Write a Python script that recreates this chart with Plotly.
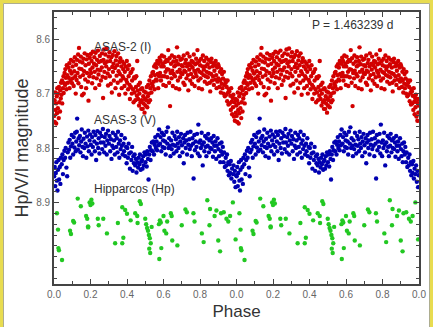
import plotly.graph_objects as go

# ---------------- data (one cycle, phase 0..1; plotted twice) ----------------
asas2_points = [
    (0.001,8.741),(0.003,8.712),(0.004,8.752),(0.007,8.698),(0.009,8.730),(0.011,8.718),(0.012,8.755),(0.015,8.705),(0.016,8.736),(0.018,8.690),
    (0.021,8.727),(0.022,8.700),(0.026,8.745),(0.027,8.688),(0.029,8.716),(0.033,8.733),(0.034,8.694),(0.037,8.709),(0.039,8.680),
    (0.041,8.702),(0.044,8.676),(0.045,8.718),(0.049,8.690),(0.052,8.668),(0.053,8.699),(0.056,8.681),(0.058,8.662),
    (0.061,8.684),(0.062,8.655),(0.065,8.671),(0.068,8.692),(0.070,8.648),(0.073,8.666),(0.076,8.680),(0.079,8.652),
    (0.081,8.671),(0.084,8.644),(0.085,8.690),(0.088,8.658),(0.091,8.676),(0.093,8.638),(0.096,8.663),(0.099,8.681),
    (0.102,8.650),(0.103,8.672),(0.106,8.641),(0.108,8.686),(0.111,8.659),(0.114,8.633),(0.117,8.668),(0.119,8.700),
    (0.121,8.647),(0.124,8.675),(0.126,8.638),(0.129,8.662),(0.132,8.628),(0.134,8.681),(0.137,8.616),(0.139,8.654),
    (0.142,8.641),(0.143,8.669),(0.147,8.632),(0.149,8.688),(0.151,8.655),(0.154,8.703),(0.156,8.643),(0.159,8.666),
    (0.161,8.636),(0.163,8.700),(0.165,8.659),(0.168,8.626),(0.171,8.674),(0.173,8.648),(0.176,8.690),(0.179,8.637),
    (0.181,8.662),(0.183,8.629),(0.186,8.678),(0.189,8.713),(0.191,8.645),(0.194,8.668),(0.196,8.634),(0.199,8.656),
    (0.202,8.627),(0.203,8.662),(0.206,8.640),(0.209,8.681),(0.211,8.652),(0.213,8.623),(0.216,8.670),(0.219,8.645),
    (0.221,8.633),(0.223,8.660),(0.226,8.690),(0.228,8.625),(0.231,8.648),(0.234,8.672),(0.236,8.638),(0.239,8.656),
    (0.241,8.621),(0.244,8.665),(0.246,8.642),(0.248,8.684),(0.251,8.631),(0.253,8.657),(0.257,8.676),(0.259,8.640),
    (0.262,8.652),(0.263,8.626),(0.266,8.669),(0.269,8.708),(0.271,8.638),(0.274,8.619),(0.276,8.660),(0.279,8.644),
    (0.281,8.628),(0.283,8.671),(0.286,8.650),(0.288,8.617),(0.291,8.641),(0.294,8.663),(0.296,8.685),(0.299,8.632),
    (0.301,8.655),(0.304,8.624),(0.306,8.668),(0.308,8.640),(0.311,8.682),(0.314,8.633),(0.317,8.698),(0.319,8.651),
    (0.322,8.629),(0.323,8.660),(0.326,8.645),(0.328,8.676),(0.331,8.622),(0.334,8.653),(0.337,8.690),(0.339,8.639),
    (0.342,8.631),(0.343,8.667),(0.346,8.648),(0.349,8.680),(0.351,8.626),(0.354,8.659),(0.357,8.702),(0.359,8.642),
    (0.361,8.664),(0.363,8.635),(0.366,8.676),(0.369,8.650),(0.371,8.690),(0.374,8.641),(0.376,8.668),(0.379,8.655),
    (0.381,8.672),(0.384,8.645),(0.386,8.686),(0.388,8.660),(0.391,8.700),(0.393,8.650),(0.396,8.675),(0.399,8.640),
    (0.401,8.680),(0.404,8.655),(0.406,8.692),(0.409,8.668),(0.411,8.648),(0.414,8.684),(0.416,8.710),(0.419,8.662),
    (0.421,8.688),(0.424,8.660),(0.426,8.700),(0.428,8.676),(0.431,8.655),(0.433,8.692),(0.436,8.716),(0.439,8.670),
    (0.441,8.698),(0.443,8.672),(0.446,8.712),(0.449,8.688),(0.451,8.668),(0.454,8.704),(0.456,8.640),(0.459,8.694),
    (0.461,8.710),(0.463,8.684),(0.466,8.722),(0.468,8.700),(0.471,8.680),(0.474,8.716),(0.476,8.692),(0.479,8.728),
    (0.481,8.712),(0.483,8.690),(0.486,8.728),(0.489,8.705),(0.491,8.718),(0.494,8.696),(0.496,8.735),(0.499,8.710),
    (0.501,8.722),(0.503,8.698),(0.506,8.712),(0.508,8.688),(0.511,8.725),(0.514,8.705),(0.516,8.684),(0.519,8.716),
    (0.521,8.700),(0.523,8.676),(0.526,8.712),(0.528,8.690),(0.531,8.668),(0.534,8.698),(0.536,8.682),(0.539,8.662),
    (0.541,8.686),(0.543,8.660),(0.546,8.678),(0.549,8.650),(0.551,8.692),(0.553,8.666),(0.556,8.646),(0.559,8.674),
    (0.561,8.652),(0.563,8.676),(0.566,8.640),(0.568,8.664),(0.571,8.690),(0.574,8.645),(0.576,8.668),(0.579,8.634),
    (0.581,8.662),(0.584,8.640),(0.586,8.676),(0.588,8.650),(0.591,8.630),(0.593,8.668),(0.596,8.645),(0.599,8.684),
    (0.601,8.650),(0.603,8.632),(0.606,8.668),(0.609,8.642),(0.611,8.660),(0.613,8.686),(0.616,8.638),(0.619,8.655),
    (0.621,8.670),(0.623,8.640),(0.626,8.620),(0.628,8.656),(0.631,8.680),(0.633,8.635),(0.636,8.723),(0.639,8.662),
    (0.641,8.645),(0.644,8.672),(0.646,8.630),(0.648,8.658),(0.651,8.686),(0.654,8.641),(0.656,8.664),(0.659,8.650),
    (0.661,8.633),(0.663,8.668),(0.666,8.648),(0.669,8.690),(0.671,8.640),(0.674,8.615),(0.676,8.660),(0.679,8.676),
    (0.681,8.646),(0.683,8.632),(0.686,8.692),(0.689,8.656),(0.691,8.670),(0.693,8.638),(0.696,8.662),(0.699,8.648),
    (0.701,8.636),(0.704,8.664),(0.706,8.650),(0.709,8.680),(0.711,8.630),(0.714,8.658),(0.716,8.684),(0.719,8.644),
    (0.721,8.660),(0.723,8.638),(0.726,8.672),(0.729,8.650),(0.731,8.626),(0.734,8.666),(0.736,8.694),(0.739,8.645),
    (0.741,8.656),(0.743,8.632),(0.746,8.676),(0.749,8.648),(0.751,8.664),(0.754,8.640),(0.756,8.682),(0.759,8.652),
    (0.761,8.642),(0.763,8.670),(0.766,8.628),(0.769,8.658),(0.771,8.686),(0.774,8.646),(0.776,8.662),(0.779,8.636),
    (0.781,8.668),(0.783,8.644),(0.786,8.620),(0.789,8.656),(0.791,8.676),(0.794,8.690),(0.796,8.640),(0.799,8.660),
    (0.801,8.648),(0.803,8.672),(0.806,8.636),(0.809,8.662),(0.811,8.692),(0.814,8.650),(0.816,8.630),(0.819,8.666),
    (0.821,8.656),(0.823,8.640),(0.826,8.678),(0.829,8.650),(0.831,8.668),(0.834,8.634),(0.836,8.660),(0.839,8.682),
    (0.841,8.646),(0.843,8.670),(0.846,8.638),(0.849,8.662),(0.851,8.652),(0.854,8.680),(0.856,8.696),(0.859,8.642),
    (0.861,8.664),(0.863,8.636),(0.866,8.676),(0.869,8.650),(0.871,8.668),(0.874,8.644),(0.876,8.684),(0.879,8.658),
    (0.881,8.648),(0.883,8.674),(0.886,8.640),(0.889,8.666),(0.891,8.690),(0.894,8.652),(0.896,8.678),(0.899,8.646),
    (0.901,8.672),(0.903,8.650),(0.906,8.688),(0.909,8.660),(0.911,8.676),(0.914,8.698),(0.916,8.655),(0.919,8.682),
    (0.921,8.664),(0.923,8.690),(0.926,8.672),(0.929,8.700),(0.931,8.660),(0.934,8.684),(0.936,8.705),(0.939,8.676),
    (0.941,8.680),(0.943,8.702),(0.946,8.688),(0.949,8.714),(0.951,8.676),(0.954,8.698),(0.956,8.720),(0.959,8.692),
    (0.961,8.696),(0.963,8.718),(0.966,8.704),(0.969,8.730),(0.971,8.690),(0.974,8.715),(0.976,8.738),(0.979,8.708),
    (0.981,8.725),(0.983,8.702),(0.986,8.742),(0.989,8.716),(0.991,8.750),(0.994,8.710),(0.996,8.735),(0.999,8.722),
]

asas3_points = [
    (0.001,8.852),(0.004,8.835),(0.007,8.870),(0.010,8.846),(0.013,8.826),(0.016,8.860),(0.019,8.878),
    (0.022,8.840),(0.025,8.822),(0.028,8.858),(0.032,8.835),(0.035,8.866),(0.038,8.818),
    (0.042,8.830),(0.046,8.812),(0.049,8.848),(0.053,8.822),(0.057,8.805),
    (0.061,8.818),(0.064,8.800),(0.068,8.836),(0.072,8.852),(0.075,8.808),(0.079,8.790),
    (0.082,8.803),(0.086,8.785),(0.089,8.818),(0.093,8.797),(0.097,8.776),
    (0.101,8.792),(0.105,8.812),(0.108,8.780),(0.112,8.799),(0.116,8.772),(0.119,8.806),
    (0.122,8.788),(0.125,8.770),(0.127,8.746),(0.131,8.803),(0.135,8.782),(0.138,8.795),
    (0.142,8.778),(0.145,8.808),(0.149,8.788),(0.152,8.766),(0.156,8.798),(0.159,8.815),
    (0.162,8.783),(0.166,8.800),(0.169,8.772),(0.173,8.792),(0.177,8.818),
    (0.181,8.779),(0.184,8.797),(0.188,8.768),(0.191,8.806),(0.195,8.786),(0.198,8.775),
    (0.202,8.794),(0.206,8.812),(0.209,8.780),(0.213,8.798),(0.217,8.770),
    (0.221,8.788),(0.224,8.806),(0.227,8.776),(0.231,8.822),(0.235,8.792),(0.238,8.769),
    (0.242,8.800),(0.245,8.782),(0.249,8.810),(0.252,8.772),(0.256,8.790),
    (0.261,8.778),(0.264,8.802),(0.268,8.765),(0.271,8.790),(0.275,8.808),(0.278,8.780),
    (0.282,8.796),(0.285,8.774),(0.289,8.812),(0.292,8.786),(0.296,8.768),
    (0.301,8.792),(0.304,8.778),(0.308,8.806),(0.312,8.784),(0.315,8.820),(0.319,8.796),
    (0.322,8.772),(0.326,8.800),(0.329,8.786),(0.333,8.812),(0.337,8.776),
    (0.341,8.798),(0.344,8.782),(0.348,8.808),(0.351,8.770),(0.355,8.792),(0.358,8.818),
    (0.362,8.786),(0.365,8.802),(0.369,8.776),(0.372,8.796),(0.376,8.812),
    (0.381,8.792),(0.384,8.806),(0.388,8.782),(0.391,8.815),(0.395,8.798),(0.398,8.828),
    (0.402,8.800),(0.405,8.818),(0.409,8.792),(0.412,8.810),(0.416,8.838),
    (0.421,8.808),(0.424,8.822),(0.428,8.798),(0.431,8.842),(0.435,8.815),(0.438,8.828),
    (0.442,8.812),(0.445,8.832),(0.449,8.820),(0.452,8.845),(0.456,8.826),
    (0.461,8.836),(0.464,8.818),(0.468,8.830),(0.471,8.812),(0.475,8.840),(0.478,8.825),
    (0.482,8.822),(0.485,8.838),(0.489,8.815),(0.492,8.832),(0.496,8.808),
    (0.501,8.826),(0.504,8.812),(0.508,8.834),(0.511,8.806),(0.515,8.820),(0.518,8.858),
    (0.522,8.812),(0.525,8.798),(0.529,8.822),(0.532,8.804),(0.536,8.790),
    (0.541,8.806),(0.544,8.788),(0.548,8.812),(0.551,8.794),(0.555,8.780),(0.558,8.800),
    (0.562,8.788),(0.565,8.804),(0.569,8.776),(0.572,8.795),(0.576,8.766),
    (0.581,8.792),(0.584,8.780),(0.588,8.806),(0.591,8.772),(0.595,8.798),(0.598,8.786),
    (0.602,8.776),(0.605,8.800),(0.609,8.788),(0.612,8.812),(0.616,8.770),
    (0.621,8.792),(0.624,8.762),(0.628,8.800),(0.631,8.782),(0.635,8.796),(0.638,8.815),
    (0.642,8.786),(0.645,8.802),(0.649,8.772),(0.652,8.794),(0.656,8.810),
    (0.661,8.778),(0.664,8.796),(0.668,8.784),(0.671,8.806),(0.675,8.770),(0.678,8.792),
    (0.682,8.800),(0.685,8.780),(0.689,8.815),(0.692,8.788),(0.696,8.774),
    (0.701,8.795),(0.704,8.808),(0.708,8.782),(0.711,8.828),(0.715,8.790),(0.718,8.776),
    (0.722,8.800),(0.725,8.786),(0.729,8.812),(0.732,8.772),(0.736,8.794),
    (0.741,8.784),(0.744,8.802),(0.748,8.770),(0.751,8.796),(0.755,8.815),(0.758,8.782),
    (0.762,8.792),(0.765,8.856),(0.769,8.776),(0.772,8.804),(0.776,8.788),
    (0.781,8.798),(0.784,8.774),(0.788,8.810),(0.791,8.757),(0.795,8.790),(0.798,8.815),
    (0.802,8.786),(0.805,8.800),(0.809,8.772),(0.812,8.794),(0.815,8.832),
    (0.821,8.790),(0.824,8.806),(0.828,8.778),(0.831,8.798),(0.835,8.815),(0.838,8.782),
    (0.842,8.796),(0.845,8.774),(0.849,8.808),(0.852,8.786),(0.856,8.800),
    (0.861,8.782),(0.864,8.802),(0.868,8.790),(0.871,8.816),(0.875,8.778),(0.878,8.796),
    (0.882,8.806),(0.885,8.788),(0.889,8.820),(0.892,8.796),(0.896,8.782),
    (0.901,8.802),(0.904,8.815),(0.908,8.792),(0.911,8.826),(0.915,8.806),(0.918,8.790),
    (0.922,8.812),(0.925,8.798),(0.929,8.826),(0.932,8.808),(0.936,8.835),
    (0.941,8.818),(0.944,8.832),(0.948,8.812),(0.951,8.842),(0.955,8.826),(0.958,8.850),
    (0.962,8.830),(0.965,8.846),(0.969,8.824),(0.972,8.856),(0.976,8.838),
    (0.981,8.848),(0.984,8.832),(0.988,8.862),(0.991,8.842),(0.995,8.872),(0.998,8.850),
]

hipparcos_points = [
    (0.016,8.920),(0.022,8.950),(0.027,8.988),(0.024,8.984),(0.044,9.006),(0.093,8.958),(0.088,8.952),
    (0.110,8.937),(0.105,8.934),(0.130,8.893),(0.147,8.907),(0.176,8.925),(0.182,8.930),(0.187,8.944),
    (0.195,8.900),(0.205,8.895),(0.200,8.905),(0.210,8.902),(0.240,8.930),(0.270,8.930),(0.245,8.942),
    (0.290,8.957),(0.350,8.938),(0.335,8.975),(0.374,8.975),(0.380,8.965),(0.374,8.909),(0.390,8.914),
    (0.400,8.921),(0.420,8.933),(0.445,8.920),(0.456,8.925),(0.458,8.938),(0.470,8.898),(0.476,8.903),
    (0.505,8.940),(0.510,8.947),(0.515,8.952),(0.520,8.960),(0.525,8.966),(0.530,8.975),(0.522,8.985),
    (0.527,8.993),(0.500,8.930),(0.535,8.945),(0.577,9.004),(0.588,8.984),(0.580,8.933),(0.585,8.937),
    (0.575,8.940),(0.600,8.925),(0.615,8.957),(0.640,8.920),(0.645,8.925),(0.648,8.970),(0.676,8.979),
    (0.700,8.942),(0.720,8.913),(0.728,8.918),(0.764,8.920),(0.770,8.935),(0.810,8.957),(0.820,8.973),
    (0.840,8.896),(0.852,8.942),(0.880,8.925),(0.890,8.915),(0.900,8.970),(0.910,8.990),(0.915,8.920),
    (0.930,8.918),(0.945,8.930),(0.955,8.935),(0.965,8.925),(0.980,8.900),(0.995,8.968),(0.605,8.952),
    (0.187,8.946),(0.855,8.912),(0.620,8.935),
]

period_label = "P = 1.463239 d"
series_labels = ["ASAS-2 (I)", "ASAS-3 (V)", "Hipparcos (Hp)"]
tick_vals = [0.0, 0.2, 0.4, 0.6, 0.8, 1.0, 1.2, 1.4, 1.6, 1.8, 2.0]
tick_text = ["0.0", "0.2", "0.4", "0.6", "0.8", "0.0", "0.2", "0.4", "0.6", "0.8", "0.0"]
y_tick_vals = [8.6, 8.7, 8.8, 8.9]
y_tick_text = ["8.6", "8.7", "8.8", "8.9"]


def two_cycles(points):
    ph = [p for p, _ in points]
    mg = [m for _, m in points]
    return ph + [p + 1.0 for p in ph], mg + mg


colors = ["#d20000", "#0000b0", "#22c822"]
fig = go.Figure()
for pts, col in zip([asas2_points, asas3_points, hipparcos_points], colors):
    x, y = two_cycles(pts)
    fig.add_trace(go.Scatter(x=x, y=y, mode="markers",
                             marker=dict(color=col, size=4.4, line=dict(width=0)),
                             showlegend=False, hoverinfo="skip"))

txt_font = dict(family="Liberation Sans, Arial, sans-serif", size=12, color="#333333")
label_pos = [(0.21, 8.614), (0.21, 8.749), (0.21, 8.875)]
for (lx, ly), t in zip(label_pos, series_labels):
    fig.add_annotation(x=lx, y=ly, text=t, showarrow=False, xanchor="left",
                       yanchor="middle", font=txt_font)
fig.add_annotation(x=1.405, y=8.573, text=period_label, showarrow=False,
                   xanchor="left", yanchor="middle", font=txt_font)

axis_common = dict(showgrid=False, zeroline=False, showline=True, linecolor="#444444",
                   linewidth=1.6, mirror="allticks", ticks="inside", ticklen=5,
                   tickwidth=1.2, tickcolor="#444444", automargin=False,
                   tickfont=dict(family="Liberation Sans, Arial, sans-serif", size=10, color="#666666"))

fig.update_xaxes(range=[0, 2.0], tickmode="array", tickvals=tick_vals, ticktext=tick_text,
                 minor=dict(dtick=0.1, ticks="inside", ticklen=3, tickcolor="#444444"),
                 title=dict(text="Phase", standoff=6,
                            font=dict(family="Liberation Sans, Arial, sans-serif", size=17, color="#333333")),
                 **axis_common)
fig.update_yaxes(range=[9.05, 8.55], tickmode="array", tickvals=y_tick_vals, ticktext=y_tick_text,
                 minor=dict(tickvals=[8.56, 8.58, 8.62, 8.64, 8.66, 8.68, 8.72, 8.74, 8.76, 8.78,
                                      8.82, 8.84, 8.86, 8.88, 8.92, 8.94, 8.96, 8.98, 9.0, 9.02, 9.04],
                            ticks="inside", ticklen=3, tickcolor="#444444"),
                 title=dict(text="Hp/V/I magnitude", standoff=3,
                            font=dict(family="Liberation Sans, Arial, sans-serif", size=18, color="#333333")),
                 **axis_common)

# yellow frame around the picture
W, H = 433, 327
L, R, T, B = 54, 14, 12, 43
pw, ph_ = W - L - R, H - T - B
def px(x):
    return (x - L) / pw
def py(y):
    return (H - B - y) / ph_
fig.add_shape(type="path", xref="paper", yref="paper",
              path=f"M {px(1.5)} {py(327)} L {px(1.5)} {py(1.5)} L {px(431.5)} {py(1.5)} L {px(431.5)} {py(327)}",
              line=dict(color="#e8dc50", width=3))
fig.add_shape(type="path", xref="paper", yref="paper",
              path=f"M {px(3.5)} {py(327)} L {px(3.5)} {py(3.5)} L {px(429.5)} {py(3.5)} L {px(429.5)} {py(327)}",
              line=dict(color="#8a8a60", width=0.7))

fig.update_layout(width=W, height=H, margin=dict(l=L, r=R, t=T, b=B),
                  paper_bgcolor="white", plot_bgcolor="white")
fig.write_html("out.html", config={"displayModeBar": False},
               post_script="document.body.style.margin='0';document.body.style.padding='0';"
                           "document.documentElement.style.overflow='hidden';")
